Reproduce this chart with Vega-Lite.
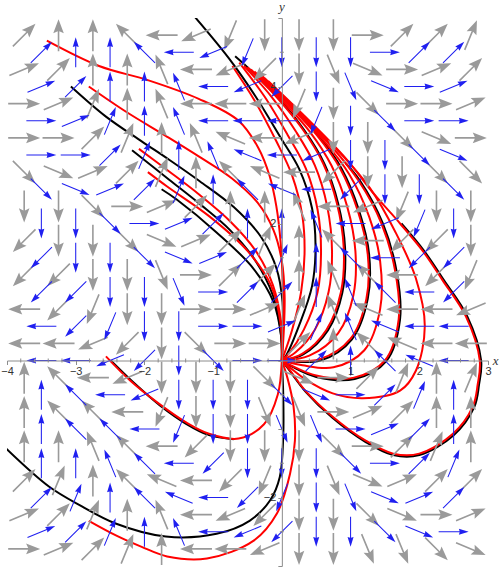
{
"$schema":"https://vega.github.io/schema/vega-lite/v6.json",
"width":481,"height":548,
"autosize":{"type":"none"},
"padding":{"left":7,"top":18,"right":16,"bottom":5},
"background":"white",
"config":{"view":{"stroke":null},"axis":{"grid":false,"labelOverlap":false}},
"datasets":{
"gray":[
{"x":-3.75,"y":4.75,"a":45},{"x":-3.25,"y":4.75,"a":0},{"x":-2.75,"y":4.75,"a":0},{"x":-2.25,"y":4.75,"a":-45},{"x":-1.75,"y":4.75,"a":-90},{"x":-1.25,"y":4.75,"a":-112.5},{"x":-0.75,"y":4.75,"a":-157.5},{"x":-0.25,"y":4.75,"a":180},{"x":0.25,"y":4.75,"a":180},{"x":0.75,"y":4.75,"a":180},{"x":1.25,"y":4.75,"a":90},{"x":1.75,"y":4.75,"a":45},{"x":2.25,"y":4.75,"a":45},{"x":2.75,"y":4.75,"a":22.5},
{"x":-3.75,"y":4.25,"a":67.5},{"x":-3.25,"y":4.25,"a":45},{"x":-2.75,"y":4.25,"a":0},{"x":-2.25,"y":4.25,"a":0},{"x":-1.75,"y":4.25,"a":-22.5},{"x":-1.25,"y":4.25,"a":-90},{"x":-0.75,"y":4.25,"a":-112.5},{"x":-0.25,"y":4.25,"a":-135},{"x":0.25,"y":4.25,"a":180},{"x":0.75,"y":4.25,"a":157.5},{"x":1.25,"y":4.25,"a":112.5},{"x":1.75,"y":4.25,"a":90},{"x":2.25,"y":4.25,"a":67.5},{"x":2.75,"y":4.25,"a":45},
{"x":-3.75,"y":3.75,"a":90},{"x":-3.25,"y":3.75,"a":67.5},{"x":-2.75,"y":3.75,"a":22.5},{"x":-2.25,"y":3.75,"a":0},{"x":-1.75,"y":3.75,"a":-22.5},{"x":-1.25,"y":3.75,"a":-90},{"x":-0.75,"y":3.75,"a":-90},{"x":-0.25,"y":3.75,"a":-90},{"x":0.25,"y":3.75,"a":-157.5},{"x":0.75,"y":3.75,"a":180},{"x":1.25,"y":3.75,"a":135},{"x":1.75,"y":3.75,"a":90},{"x":2.25,"y":3.75,"a":90},{"x":2.75,"y":3.75,"a":67.5},
{"x":-3.75,"y":3.25,"a":90},{"x":-3.25,"y":3.25,"a":90},{"x":-2.75,"y":3.25,"a":45},{"x":-2.25,"y":3.25,"a":22.5},{"x":-1.75,"y":3.25,"a":0},{"x":-1.25,"y":3.25,"a":-22.5},{"x":-0.75,"y":3.25,"a":-67.5},{"x":-0.25,"y":3.25,"a":-90},{"x":0.25,"y":3.25,"a":-112.5},{"x":0.75,"y":3.25,"a":180},{"x":1.25,"y":3.25,"a":180},{"x":1.75,"y":3.25,"a":135},{"x":2.25,"y":3.25,"a":112.5},{"x":2.75,"y":3.25,"a":90},
{"x":-3.75,"y":2.75,"a":135},{"x":-3.25,"y":2.75,"a":112.5},{"x":-2.75,"y":2.75,"a":67.5},{"x":-2.25,"y":2.75,"a":45},{"x":-1.75,"y":2.75,"a":22.5},{"x":-1.25,"y":2.75,"a":0},{"x":-0.75,"y":2.75,"a":-45},{"x":-0.25,"y":2.75,"a":-67.5},{"x":0.25,"y":2.75,"a":-90},{"x":0.75,"y":2.75,"a":-135},{"x":1.25,"y":2.75,"a":180},{"x":1.75,"y":2.75,"a":180},{"x":2.25,"y":2.75,"a":135},{"x":2.75,"y":2.75,"a":135},
{"x":-3.75,"y":2.25,"a":180},{"x":-3.25,"y":2.25,"a":180},{"x":-2.75,"y":2.25,"a":135},{"x":-2.25,"y":2.25,"a":90},{"x":-1.75,"y":2.25,"a":67.5},{"x":-1.25,"y":2.25,"a":45},{"x":-0.75,"y":2.25,"a":0},{"x":-0.25,"y":2.25,"a":0},{"x":0.25,"y":2.25,"a":-22.5},{"x":0.75,"y":2.25,"a":-90},{"x":1.25,"y":2.25,"a":-112.5},{"x":1.75,"y":2.25,"a":-157.5},{"x":2.25,"y":2.25,"a":180},{"x":2.75,"y":2.25,"a":180},
{"x":-3.75,"y":1.75,"a":-135},{"x":-3.25,"y":1.75,"a":180},{"x":-2.75,"y":1.75,"a":180},{"x":-2.25,"y":1.75,"a":135},{"x":-1.75,"y":1.75,"a":112.5},{"x":-1.25,"y":1.75,"a":67.5},{"x":-0.75,"y":1.75,"a":45},{"x":-0.25,"y":1.75,"a":22.5},{"x":0.25,"y":1.75,"a":0},{"x":0.75,"y":1.75,"a":-45},{"x":1.25,"y":1.75,"a":-90},{"x":1.75,"y":1.75,"a":-135},{"x":2.25,"y":1.75,"a":-135},{"x":2.75,"y":1.75,"a":180},
{"x":-3.75,"y":1.25,"a":-135},{"x":-3.25,"y":1.25,"a":-135},{"x":-2.75,"y":1.25,"a":180},{"x":-2.25,"y":1.25,"a":180},{"x":-1.75,"y":1.25,"a":157.5},{"x":-1.25,"y":1.25,"a":90},{"x":-0.75,"y":1.25,"a":45},{"x":-0.25,"y":1.25,"a":45},{"x":0.25,"y":1.25,"a":0},{"x":0.75,"y":1.25,"a":-22.5},{"x":1.25,"y":1.25,"a":-45},{"x":1.75,"y":1.25,"a":-90},{"x":2.25,"y":1.25,"a":-135},{"x":2.75,"y":1.25,"a":-157.5},
{"x":-3.75,"y":0.75,"a":-90},{"x":-3.25,"y":0.75,"a":-135},{"x":-2.75,"y":0.75,"a":-157.5},{"x":-2.25,"y":0.75,"a":180},{"x":-1.75,"y":0.75,"a":180},{"x":-1.25,"y":0.75,"a":90},{"x":-0.75,"y":0.75,"a":90},{"x":-0.25,"y":0.75,"a":67.5},{"x":0.25,"y":0.75,"a":22.5},{"x":0.75,"y":0.75,"a":-22.5},{"x":1.25,"y":0.75,"a":-67.5},{"x":1.75,"y":0.75,"a":-90},{"x":2.25,"y":0.75,"a":-90},{"x":2.75,"y":0.75,"a":-112.5},
{"x":-3.75,"y":0.25,"a":-90},{"x":-3.25,"y":0.25,"a":-90},{"x":-2.75,"y":0.25,"a":-112.5},{"x":-2.25,"y":0.25,"a":-135},{"x":-1.75,"y":0.25,"a":180},{"x":-1.25,"y":0.25,"a":135},{"x":-0.75,"y":0.25,"a":90},{"x":-0.25,"y":0.25,"a":90},{"x":0.25,"y":0.25,"a":45},{"x":0.75,"y":0.25,"a":0},{"x":1.25,"y":0.25,"a":-45},{"x":1.75,"y":0.25,"a":-67.5},{"x":2.25,"y":0.25,"a":-90},{"x":2.75,"y":0.25,"a":-90},
{"x":-3.75,"y":-0.25,"a":0},{"x":-3.25,"y":-0.25,"a":-45},{"x":-2.75,"y":-0.25,"a":-90},{"x":-2.25,"y":-0.25,"a":-112.5},{"x":-1.75,"y":-0.25,"a":180},{"x":-1.25,"y":-0.25,"a":180},{"x":-0.75,"y":-0.25,"a":180},{"x":-0.25,"y":-0.25,"a":135},{"x":0.25,"y":-0.25,"a":112.5},{"x":0.75,"y":-0.25,"a":90},{"x":1.25,"y":-0.25,"a":45},{"x":1.75,"y":-0.25,"a":22.5},{"x":2.25,"y":-0.25,"a":0},{"x":2.75,"y":-0.25,"a":22.5},
{"x":-3.75,"y":-0.75,"a":0},{"x":-3.25,"y":-0.75,"a":-45},{"x":-2.75,"y":-0.75,"a":-45},{"x":-2.25,"y":-0.75,"a":-90},{"x":-1.75,"y":-0.75,"a":-157.5},{"x":-1.25,"y":-0.75,"a":180},{"x":-0.75,"y":-0.75,"a":180},{"x":-0.25,"y":-0.75,"a":157.5},{"x":0.25,"y":-0.75,"a":157.5},{"x":0.75,"y":-0.75,"a":90},{"x":1.25,"y":-0.75,"a":67.5},{"x":1.75,"y":-0.75,"a":45},{"x":2.25,"y":-0.75,"a":0},{"x":2.75,"y":-0.75,"a":0},
{"x":-3.75,"y":-1.25,"a":0},{"x":-3.25,"y":-1.25,"a":0},{"x":-2.75,"y":-1.25,"a":-22.5},{"x":-2.25,"y":-1.25,"a":-45},{"x":-1.75,"y":-1.25,"a":-90},{"x":-1.25,"y":-1.25,"a":-135},{"x":-0.75,"y":-1.25,"a":180},{"x":-0.25,"y":-1.25,"a":180},{"x":0.25,"y":-1.25,"a":180},{"x":0.75,"y":-1.25,"a":135},{"x":1.25,"y":-1.25,"a":90},{"x":1.75,"y":-1.25,"a":45},{"x":2.25,"y":-1.25,"a":22.5},{"x":2.75,"y":-1.25,"a":0},
{"x":-3.75,"y":-1.75,"a":45},{"x":-3.25,"y":-1.75,"a":22.5},{"x":-2.75,"y":-1.75,"a":0},{"x":-2.25,"y":-1.75,"a":-45},{"x":-1.75,"y":-1.75,"a":-67.5},{"x":-1.25,"y":-1.75,"a":-90},{"x":-0.75,"y":-1.75,"a":-135},{"x":-0.25,"y":-1.75,"a":-157.5},{"x":0.25,"y":-1.75,"a":180},{"x":0.75,"y":-1.75,"a":157.5},{"x":1.25,"y":-1.75,"a":112.5},{"x":1.75,"y":-1.75,"a":67.5},{"x":2.25,"y":-1.75,"a":45},{"x":2.75,"y":-1.75,"a":45},
{"x":-3.75,"y":-2.25,"a":67.5},{"x":-3.25,"y":-2.25,"a":45},{"x":-2.75,"y":-2.25,"a":22.5},{"x":-2.25,"y":-2.25,"a":0},{"x":-1.75,"y":-2.25,"a":-22.5},{"x":-1.25,"y":-2.25,"a":-90},{"x":-0.75,"y":-2.25,"a":-112.5},{"x":-0.25,"y":-2.25,"a":-135},{"x":0.25,"y":-2.25,"a":180},{"x":0.75,"y":-2.25,"a":180},{"x":1.25,"y":-2.25,"a":135},{"x":1.75,"y":-2.25,"a":112.5},{"x":2.25,"y":-2.25,"a":90},{"x":2.75,"y":-2.25,"a":67.5},
{"x":-3.75,"y":-2.75,"a":90},{"x":-3.25,"y":-2.75,"a":67.5},{"x":-2.75,"y":-2.75,"a":45},{"x":-2.25,"y":-2.75,"a":22.5},{"x":-1.75,"y":-2.75,"a":0},{"x":-1.25,"y":-2.75,"a":-90},{"x":-0.75,"y":-2.75,"a":-90},{"x":-0.25,"y":-2.75,"a":-112.5},{"x":0.25,"y":-2.75,"a":180},{"x":0.75,"y":-2.75,"a":180},{"x":1.25,"y":-2.75,"a":157.5},{"x":1.75,"y":-2.75,"a":157.5},{"x":2.25,"y":-2.75,"a":135},{"x":2.75,"y":-2.75,"a":112.5}
],
"blue":[
{"x":-3.5,"y":4.5,"a":45},{"x":-3,"y":4.5,"a":0},{"x":-2.5,"y":4.5,"a":0},{"x":-2,"y":4.5,"a":-45},{"x":-1.5,"y":4.5,"a":-90},{"x":-1,"y":4.5,"a":-112.5},{"x":-0.5,"y":4.5,"a":-157.5},{"x":0,"y":4.5,"a":180},{"x":0.5,"y":4.5,"a":180},{"x":1,"y":4.5,"a":180},{"x":1.5,"y":4.5,"a":90},{"x":2,"y":4.5,"a":45},{"x":2.5,"y":4.5,"a":45},
{"x":-3.5,"y":4,"a":67.5},{"x":-3,"y":4,"a":45},{"x":-2.5,"y":4,"a":0},{"x":-2,"y":4,"a":0},{"x":-1.5,"y":4,"a":-22.5},{"x":-1,"y":4,"a":-90},{"x":-0.5,"y":4,"a":-112.5},{"x":0,"y":4,"a":-135},{"x":0.5,"y":4,"a":180},{"x":1,"y":4,"a":157.5},{"x":1.5,"y":4,"a":112.5},{"x":2,"y":4,"a":90},{"x":2.5,"y":4,"a":67.5},
{"x":-3.5,"y":3.5,"a":90},{"x":-3,"y":3.5,"a":67.5},{"x":-2.5,"y":3.5,"a":22.5},{"x":-2,"y":3.5,"a":0},{"x":-1.5,"y":3.5,"a":-22.5},{"x":-1,"y":3.5,"a":-90},{"x":-0.5,"y":3.5,"a":-90},{"x":0,"y":3.5,"a":-90},{"x":0.5,"y":3.5,"a":-157.5},{"x":1,"y":3.5,"a":180},{"x":1.5,"y":3.5,"a":135},{"x":2,"y":3.5,"a":90},{"x":2.5,"y":3.5,"a":90},
{"x":-3.5,"y":3,"a":90},{"x":-3,"y":3,"a":90},{"x":-2.5,"y":3,"a":45},{"x":-2,"y":3,"a":22.5},{"x":-1.5,"y":3,"a":0},{"x":-1,"y":3,"a":-22.5},{"x":-0.5,"y":3,"a":-67.5},{"x":0,"y":3,"a":-90},{"x":0.5,"y":3,"a":-112.5},{"x":1,"y":3,"a":180},{"x":1.5,"y":3,"a":180},{"x":2,"y":3,"a":135},{"x":2.5,"y":3,"a":112.5},
{"x":-3.5,"y":2.5,"a":135},{"x":-3,"y":2.5,"a":112.5},{"x":-2.5,"y":2.5,"a":67.5},{"x":-2,"y":2.5,"a":45},{"x":-1.5,"y":2.5,"a":22.5},{"x":-1,"y":2.5,"a":0},{"x":-0.5,"y":2.5,"a":-45},{"x":0,"y":2.5,"a":-67.5},{"x":0.5,"y":2.5,"a":-90},{"x":1,"y":2.5,"a":-135},{"x":1.5,"y":2.5,"a":180},{"x":2,"y":2.5,"a":180},{"x":2.5,"y":2.5,"a":135},
{"x":-3.5,"y":2,"a":180},{"x":-3,"y":2,"a":180},{"x":-2.5,"y":2,"a":135},{"x":-2,"y":2,"a":90},{"x":-1.5,"y":2,"a":67.5},{"x":-1,"y":2,"a":45},{"x":-0.5,"y":2,"a":0},{"x":0,"y":2,"a":0},{"x":0.5,"y":2,"a":-22.5},{"x":1,"y":2,"a":-90},{"x":1.5,"y":2,"a":-112.5},{"x":2,"y":2,"a":-157.5},{"x":2.5,"y":2,"a":180},
{"x":-3.5,"y":1.5,"a":-135},{"x":-3,"y":1.5,"a":180},{"x":-2.5,"y":1.5,"a":180},{"x":-2,"y":1.5,"a":135},{"x":-1.5,"y":1.5,"a":112.5},{"x":-1,"y":1.5,"a":67.5},{"x":-0.5,"y":1.5,"a":45},{"x":0,"y":1.5,"a":22.5},{"x":0.5,"y":1.5,"a":0},{"x":1,"y":1.5,"a":-45},{"x":1.5,"y":1.5,"a":-90},{"x":2,"y":1.5,"a":-135},{"x":2.5,"y":1.5,"a":-135},
{"x":-3.5,"y":1,"a":-135},{"x":-3,"y":1,"a":-135},{"x":-2.5,"y":1,"a":180},{"x":-2,"y":1,"a":180},{"x":-1.5,"y":1,"a":157.5},{"x":-1,"y":1,"a":90},{"x":-0.5,"y":1,"a":45},{"x":0,"y":1,"a":45},{"x":0.5,"y":1,"a":0},{"x":1,"y":1,"a":-22.5},{"x":1.5,"y":1,"a":-45},{"x":2,"y":1,"a":-90},{"x":2.5,"y":1,"a":-135},
{"x":-3.5,"y":0.5,"a":-90},{"x":-3,"y":0.5,"a":-135},{"x":-2.5,"y":0.5,"a":-157.5},{"x":-2,"y":0.5,"a":180},{"x":-1.5,"y":0.5,"a":180},{"x":-1,"y":0.5,"a":90},{"x":-0.5,"y":0.5,"a":90},{"x":0,"y":0.5,"a":67.5},{"x":0.5,"y":0.5,"a":22.5},{"x":1,"y":0.5,"a":-22.5},{"x":1.5,"y":0.5,"a":-67.5},{"x":2,"y":0.5,"a":-90},{"x":2.5,"y":0.5,"a":-90},
{"x":-3.5,"y":0,"a":-90},{"x":-3,"y":0,"a":-90},{"x":-2.5,"y":0,"a":-112.5},{"x":-2,"y":0,"a":-135},{"x":-1.5,"y":0,"a":180},{"x":-1,"y":0,"a":135},{"x":-0.5,"y":0,"a":90},{"x":0,"y":0,"a":90},{"x":0.5,"y":0,"a":45},{"x":1,"y":0,"a":0},{"x":1.5,"y":0,"a":-45},{"x":2,"y":0,"a":-67.5},{"x":2.5,"y":0,"a":-90},
{"x":-3.5,"y":-0.5,"a":0},{"x":-3,"y":-0.5,"a":-45},{"x":-2.5,"y":-0.5,"a":-90},{"x":-2,"y":-0.5,"a":-112.5},{"x":-1.5,"y":-0.5,"a":180},{"x":-1,"y":-0.5,"a":180},{"x":-0.5,"y":-0.5,"a":180},{"x":0,"y":-0.5,"a":135},{"x":0.5,"y":-0.5,"a":112.5},{"x":1,"y":-0.5,"a":90},{"x":1.5,"y":-0.5,"a":45},{"x":2,"y":-0.5,"a":22.5},{"x":2.5,"y":-0.5,"a":0},
{"x":-3.5,"y":-1,"a":0},{"x":-3,"y":-1,"a":-45},{"x":-2.5,"y":-1,"a":-45},{"x":-2,"y":-1,"a":-90},{"x":-1.5,"y":-1,"a":-157.5},{"x":-1,"y":-1,"a":180},{"x":-0.5,"y":-1,"a":180},{"x":0,"y":-1,"a":157.5},{"x":0.5,"y":-1,"a":157.5},{"x":1,"y":-1,"a":90},{"x":1.5,"y":-1,"a":67.5},{"x":2,"y":-1,"a":45},{"x":2.5,"y":-1,"a":0},
{"x":-3.5,"y":-1.5,"a":0},{"x":-3,"y":-1.5,"a":0},{"x":-2.5,"y":-1.5,"a":-22.5},{"x":-2,"y":-1.5,"a":-45},{"x":-1.5,"y":-1.5,"a":-90},{"x":-1,"y":-1.5,"a":-135},{"x":-0.5,"y":-1.5,"a":180},{"x":0,"y":-1.5,"a":180},{"x":0.5,"y":-1.5,"a":180},{"x":1,"y":-1.5,"a":135},{"x":1.5,"y":-1.5,"a":90},{"x":2,"y":-1.5,"a":45},{"x":2.5,"y":-1.5,"a":22.5},
{"x":-3.5,"y":-2,"a":45},{"x":-3,"y":-2,"a":22.5},{"x":-2.5,"y":-2,"a":0},{"x":-2,"y":-2,"a":-45},{"x":-1.5,"y":-2,"a":-67.5},{"x":-1,"y":-2,"a":-90},{"x":-0.5,"y":-2,"a":-135},{"x":0,"y":-2,"a":-157.5},{"x":0.5,"y":-2,"a":180},{"x":1,"y":-2,"a":157.5},{"x":1.5,"y":-2,"a":112.5},{"x":2,"y":-2,"a":67.5},{"x":2.5,"y":-2,"a":45},
{"x":-3.5,"y":-2.5,"a":67.5},{"x":-3,"y":-2.5,"a":45},{"x":-2.5,"y":-2.5,"a":22.5},{"x":-2,"y":-2.5,"a":0},{"x":-1.5,"y":-2.5,"a":-22.5},{"x":-1,"y":-2.5,"a":-90},{"x":-0.5,"y":-2.5,"a":-112.5},{"x":0,"y":-2.5,"a":-135},{"x":0.5,"y":-2.5,"a":180},{"x":1,"y":-2.5,"a":180},{"x":1.5,"y":-2.5,"a":135},{"x":2,"y":-2.5,"a":112.5},{"x":2.5,"y":-2.5,"a":90}
],
"curves":[
{"c":"R1","col":"r","i":0,"x":-3.42,"y":4.67},{"c":"R1","col":"r","i":1,"x":-2.66,"y":4.3},{"c":"R1","col":"r","i":2,"x":-1.94,"y":4.09},{"c":"R1","col":"r","i":3,"x":-1.21,"y":3.82},{"c":"R1","col":"r","i":4,"x":-0.63,"y":3.5},{"c":"R1","col":"r","i":5,"x":-0.34,"y":3.1},{"c":"R1","col":"r","i":6,"x":-0.18,"y":2.7},{"c":"R1","col":"r","i":7,"x":-0.08,"y":2.25},{"c":"R1","col":"r","i":8,"x":-0.02,"y":1.75},{"c":"R1","col":"r","i":9,"x":0.01,"y":1.2},{"c":"R1","col":"r","i":10,"x":0.02,"y":0.6},{"c":"R1","col":"r","i":11,"x":0,"y":0},
{"c":"R2","col":"r","i":0,"x":-2.81,"y":4.0},{"c":"R2","col":"r","i":1,"x":-2.25,"y":3.62},{"c":"R2","col":"r","i":2,"x":-1.69,"y":3.28},{"c":"R2","col":"r","i":3,"x":-1.21,"y":2.98},{"c":"R2","col":"r","i":4,"x":-0.73,"y":2.66},{"c":"R2","col":"r","i":5,"x":-0.35,"y":2.3},{"c":"R2","col":"r","i":6,"x":-0.12,"y":1.9},{"c":"R2","col":"r","i":7,"x":0.0,"y":1.45},{"c":"R2","col":"r","i":8,"x":0.04,"y":0.95},{"c":"R2","col":"r","i":9,"x":0.03,"y":0.47},{"c":"R2","col":"r","i":10,"x":0,"y":0},
{"c":"B1","col":"k","i":0,"x":-3.07,"y":4.0},{"c":"B1","col":"k","i":1,"x":-2.56,"y":3.56},{"c":"B1","col":"k","i":2,"x":-2.04,"y":3.2},{"c":"B1","col":"k","i":3,"x":-1.64,"y":2.93},{"c":"B1","col":"k","i":4,"x":-1.2,"y":2.62},{"c":"B1","col":"k","i":5,"x":-0.7,"y":2.24},{"c":"B1","col":"k","i":6,"x":-0.3,"y":1.8},{"c":"B1","col":"k","i":7,"x":-0.08,"y":1.35},{"c":"B1","col":"k","i":8,"x":0.01,"y":0.85},{"c":"B1","col":"k","i":9,"x":0.01,"y":0.4},{"c":"B1","col":"k","i":10,"x":0,"y":0},
{"c":"R3","col":"r","i":0,"x":-2.08,"y":3.09},{"c":"R3","col":"r","i":1,"x":-1.64,"y":2.76},{"c":"R3","col":"r","i":2,"x":-1.2,"y":2.42},{"c":"R3","col":"r","i":3,"x":-0.75,"y":2.03},{"c":"R3","col":"r","i":4,"x":-0.38,"y":1.6},{"c":"R3","col":"r","i":5,"x":-0.13,"y":1.1},{"c":"R3","col":"r","i":6,"x":-0.01,"y":0.55},{"c":"R3","col":"r","i":7,"x":0,"y":0},
{"c":"B2","col":"k","i":0,"x":-2.18,"y":3.07},{"c":"B2","col":"k","i":1,"x":-1.64,"y":2.64},{"c":"B2","col":"k","i":2,"x":-1.2,"y":2.29},{"c":"B2","col":"k","i":3,"x":-0.75,"y":1.9},{"c":"B2","col":"k","i":4,"x":-0.38,"y":1.45},{"c":"B2","col":"k","i":5,"x":-0.13,"y":0.95},{"c":"B2","col":"k","i":6,"x":-0.02,"y":0.45},{"c":"B2","col":"k","i":7,"x":0,"y":0},
{"c":"R4","col":"r","i":0,"x":-1.95,"y":2.75},{"c":"R4","col":"r","i":1,"x":-1.67,"y":2.54},{"c":"R4","col":"r","i":2,"x":-1.05,"y":2.1},{"c":"R4","col":"r","i":3,"x":-0.5,"y":1.6},{"c":"R4","col":"r","i":4,"x":-0.16,"y":1.1},{"c":"R4","col":"r","i":5,"x":-0.02,"y":0.55},{"c":"R4","col":"r","i":6,"x":0,"y":0},
{"c":"B3","col":"k","i":0,"x":-1.75,"y":2.5},{"c":"B3","col":"k","i":1,"x":-1.53,"y":2.35},{"c":"B3","col":"k","i":2,"x":-0.95,"y":1.87},{"c":"B3","col":"k","i":3,"x":-0.42,"y":1.35},{"c":"B3","col":"k","i":4,"x":-0.12,"y":0.85},{"c":"B3","col":"k","i":5,"x":-0.01,"y":0.35},{"c":"B3","col":"k","i":6,"x":0,"y":0},
{"c":"BT","col":"k","i":0,"x":-1.27,"y":5.02},{"c":"BT","col":"k","i":1,"x":-0.77,"y":4.41},{"c":"BT","col":"k","i":2,"x":-0.38,"y":3.85},{"c":"BT","col":"k","i":3,"x":-0.01,"y":3.24},{"c":"BT","col":"k","i":4,"x":0.25,"y":2.8},{"c":"BT","col":"k","i":5,"x":0.44,"y":2.22},{"c":"BT","col":"k","i":6,"x":0.49,"y":1.68},{"c":"BT","col":"k","i":7,"x":0.44,"y":1.09},{"c":"BT","col":"k","i":8,"x":0.25,"y":0.51},{"c":"BT","col":"k","i":9,"x":0.06,"y":0.07},{"c":"BT","col":"k","i":10,"x":0,"y":0},
{"c":"K1","col":"r","i":0,"x":-0.72,"y":4.3},{"c":"K1","col":"r","i":1,"x":-0.4,"y":3.8},{"c":"K1","col":"r","i":2,"x":-0.08,"y":3.2},{"c":"K1","col":"r","i":3,"x":0.15,"y":2.7},{"c":"K1","col":"r","i":4,"x":0.3,"y":2.1},{"c":"K1","col":"r","i":5,"x":0.33,"y":1.55},{"c":"K1","col":"r","i":6,"x":0.28,"y":1.0},{"c":"K1","col":"r","i":7,"x":0.15,"y":0.45},{"c":"K1","col":"r","i":8,"x":0,"y":0},
{"c":"K2","col":"r","i":0,"x":-0.62,"y":4.35},{"c":"K2","col":"r","i":1,"x":-0.25,"y":3.85},{"c":"K2","col":"r","i":2,"x":0.08,"y":3.3},{"c":"K2","col":"r","i":3,"x":0.35,"y":2.8},{"c":"K2","col":"r","i":4,"x":0.52,"y":2.2},{"c":"K2","col":"r","i":5,"x":0.57,"y":1.6},{"c":"K2","col":"r","i":6,"x":0.52,"y":1.0},{"c":"K2","col":"r","i":7,"x":0.32,"y":0.45},{"c":"K2","col":"r","i":8,"x":0.1,"y":0.1},{"c":"K2","col":"r","i":9,"x":0,"y":0},
{"c":"K3","col":"r","i":0,"x":-0.55,"y":4.3},{"c":"K3","col":"r","i":1,"x":-0.15,"y":3.85},{"c":"K3","col":"r","i":2,"x":0.2,"y":3.35},{"c":"K3","col":"r","i":3,"x":0.48,"y":2.85},{"c":"K3","col":"r","i":4,"x":0.66,"y":2.25},{"c":"K3","col":"r","i":5,"x":0.73,"y":1.6},{"c":"K3","col":"r","i":6,"x":0.68,"y":1.0},{"c":"K3","col":"r","i":7,"x":0.48,"y":0.45},{"c":"K3","col":"r","i":8,"x":0.2,"y":0.12},{"c":"K3","col":"r","i":9,"x":0,"y":0},
{"c":"K4","col":"r","i":0,"x":-0.5,"y":4.28},{"c":"K4","col":"r","i":1,"x":-0.08,"y":3.85},{"c":"K4","col":"r","i":2,"x":0.3,"y":3.38},{"c":"K4","col":"r","i":3,"x":0.6,"y":2.88},{"c":"K4","col":"r","i":4,"x":0.8,"y":2.3},{"c":"K4","col":"r","i":5,"x":0.9,"y":1.65},{"c":"K4","col":"r","i":6,"x":0.86,"y":1.0},{"c":"K4","col":"r","i":7,"x":0.65,"y":0.45},{"c":"K4","col":"r","i":8,"x":0.3,"y":0.1},{"c":"K4","col":"r","i":9,"x":0,"y":0},
{"c":"K5","col":"r","i":0,"x":-0.45,"y":4.25},{"c":"K5","col":"r","i":1,"x":0.0,"y":3.8},{"c":"K5","col":"r","i":2,"x":0.4,"y":3.35},{"c":"K5","col":"r","i":3,"x":0.72,"y":2.85},{"c":"K5","col":"r","i":4,"x":0.95,"y":2.25},{"c":"K5","col":"r","i":5,"x":1.07,"y":1.6},{"c":"K5","col":"r","i":6,"x":1.04,"y":0.95},{"c":"K5","col":"r","i":7,"x":0.82,"y":0.4},{"c":"K5","col":"r","i":8,"x":0.4,"y":0.07},{"c":"K5","col":"r","i":9,"x":0,"y":0},
{"c":"K6","col":"r","i":0,"x":-0.4,"y":4.22},{"c":"K6","col":"r","i":1,"x":0.08,"y":3.75},{"c":"K6","col":"r","i":2,"x":0.5,"y":3.3},{"c":"K6","col":"r","i":3,"x":0.85,"y":2.8},{"c":"K6","col":"r","i":4,"x":1.1,"y":2.2},{"c":"K6","col":"r","i":5,"x":1.25,"y":1.55},{"c":"K6","col":"r","i":6,"x":1.23,"y":0.9},{"c":"K6","col":"r","i":7,"x":1.0,"y":0.32},{"c":"K6","col":"r","i":8,"x":0.55,"y":0.02},{"c":"K6","col":"r","i":9,"x":0,"y":0},
{"c":"K7","col":"r","i":0,"x":-0.35,"y":4.2},{"c":"K7","col":"r","i":1,"x":0.15,"y":3.7},{"c":"K7","col":"r","i":2,"x":0.6,"y":3.22},{"c":"K7","col":"r","i":3,"x":0.98,"y":2.72},{"c":"K7","col":"r","i":4,"x":1.27,"y":2.1},{"c":"K7","col":"r","i":5,"x":1.43,"y":1.45},{"c":"K7","col":"r","i":6,"x":1.43,"y":0.75},{"c":"K7","col":"r","i":7,"x":1.2,"y":0.15},{"c":"K7","col":"r","i":8,"x":0.75,"y":-0.1},{"c":"K7","col":"r","i":9,"x":0.3,"y":-0.07},{"c":"K7","col":"r","i":10,"x":0,"y":0},
{"c":"K8","col":"r","i":0,"x":-0.3,"y":4.17},{"c":"K8","col":"r","i":1,"x":0.2,"y":3.65},{"c":"K8","col":"r","i":2,"x":0.7,"y":3.15},{"c":"K8","col":"r","i":3,"x":1.12,"y":2.62},{"c":"K8","col":"r","i":4,"x":1.45,"y":2.0},{"c":"K8","col":"r","i":5,"x":1.65,"y":1.3},{"c":"K8","col":"r","i":6,"x":1.7,"y":0.6},{"c":"K8","col":"r","i":7,"x":1.5,"y":0.0},{"c":"K8","col":"r","i":8,"x":1.05,"y":-0.25},{"c":"K8","col":"r","i":9,"x":0.5,"y":-0.22},{"c":"K8","col":"r","i":10,"x":0.15,"y":-0.08},{"c":"K8","col":"r","i":11,"x":0,"y":0},
{"c":"K9","col":"r","i":0,"x":-0.25,"y":4.12},{"c":"K9","col":"r","i":1,"x":0.3,"y":3.58},{"c":"K9","col":"r","i":2,"x":0.8,"y":3.08},{"c":"K9","col":"r","i":3,"x":1.28,"y":2.52},{"c":"K9","col":"r","i":4,"x":1.65,"y":1.88},{"c":"K9","col":"r","i":5,"x":1.95,"y":1.2},{"c":"K9","col":"r","i":6,"x":2.08,"y":0.5},{"c":"K9","col":"r","i":7,"x":1.95,"y":-0.15},{"c":"K9","col":"r","i":8,"x":1.72,"y":-0.44},{"c":"K9","col":"r","i":9,"x":1.18,"y":-0.55},{"c":"K9","col":"r","i":10,"x":0.74,"y":-0.48},{"c":"K9","col":"r","i":11,"x":0.35,"y":-0.28},{"c":"K9","col":"r","i":12,"x":0,"y":0},
{"c":"K10","col":"r","i":0,"x":-0.2,"y":4.08},{"c":"K10","col":"r","i":1,"x":0.4,"y":3.5},{"c":"K10","col":"r","i":2,"x":0.93,"y":2.95},{"c":"K10","col":"r","i":3,"x":1.35,"y":2.42},{"c":"K10","col":"r","i":4,"x":1.72,"y":2.0},{"c":"K10","col":"r","i":5,"x":2.05,"y":1.6},{"c":"K10","col":"r","i":6,"x":2.34,"y":1.17},{"c":"K10","col":"r","i":7,"x":2.68,"y":0.64},{"c":"K10","col":"r","i":8,"x":2.88,"y":0.0},{"c":"K10","col":"r","i":9,"x":2.85,"y":-0.35},{"c":"K10","col":"r","i":10,"x":2.78,"y":-0.67},{"c":"K10","col":"r","i":11,"x":2.49,"y":-1.07},{"c":"K10","col":"r","i":12,"x":2.0,"y":-1.36},{"c":"K10","col":"r","i":13,"x":1.62,"y":-1.36},{"c":"K10","col":"r","i":14,"x":1.22,"y":-1.17},{"c":"K10","col":"r","i":15,"x":0.74,"y":-0.82},{"c":"K10","col":"r","i":16,"x":0.35,"y":-0.45},{"c":"K10","col":"r","i":17,"x":0.1,"y":-0.12},{"c":"K10","col":"r","i":18,"x":0,"y":0},
{"c":"B4","col":"k","i":0,"x":-0.68,"y":4.44},{"c":"B4","col":"k","i":1,"x":-0.48,"y":4.26},{"c":"B4","col":"k","i":2,"x":-0.06,"y":3.84},{"c":"B4","col":"k","i":3,"x":0.32,"y":3.37},{"c":"B4","col":"k","i":4,"x":0.62,"y":2.87},{"c":"B4","col":"k","i":5,"x":0.82,"y":2.29},{"c":"B4","col":"k","i":6,"x":0.92,"y":1.64},{"c":"B4","col":"k","i":7,"x":0.88,"y":0.99},{"c":"B4","col":"k","i":8,"x":0.67,"y":0.44},{"c":"B4","col":"k","i":9,"x":0.31,"y":0.09},{"c":"B4","col":"k","i":10,"x":0,"y":0},
{"c":"B6","col":"k","i":0,"x":0.1,"y":3.75},{"c":"B6","col":"k","i":1,"x":0.52,"y":3.3},{"c":"B6","col":"k","i":2,"x":0.87,"y":2.8},{"c":"B6","col":"k","i":3,"x":1.12,"y":2.2},{"c":"B6","col":"k","i":4,"x":1.27,"y":1.55},{"c":"B6","col":"k","i":5,"x":1.25,"y":0.9},{"c":"B6","col":"k","i":6,"x":1.02,"y":0.31},{"c":"B6","col":"k","i":7,"x":0.56,"y":0.0},{"c":"B6","col":"k","i":8,"x":0,"y":0},
{"c":"B8","col":"k","i":0,"x":0.93,"y":2.88},{"c":"B8","col":"k","i":1,"x":1.14,"y":2.62},{"c":"B8","col":"k","i":2,"x":1.47,"y":2.0},{"c":"B8","col":"k","i":3,"x":1.67,"y":1.3},{"c":"B8","col":"k","i":4,"x":1.72,"y":0.6},{"c":"B8","col":"k","i":5,"x":1.52,"y":-0.01},{"c":"B8","col":"k","i":6,"x":1.06,"y":-0.27},{"c":"B8","col":"k","i":7,"x":0.5,"y":-0.24},{"c":"B8","col":"k","i":8,"x":0.15,"y":-0.09},{"c":"B8","col":"k","i":9,"x":0,"y":0},
{"c":"B10","col":"k","i":0,"x":1.74,"y":2.0},{"c":"B10","col":"k","i":1,"x":2.07,"y":1.6},{"c":"B10","col":"k","i":2,"x":2.36,"y":1.17},{"c":"B10","col":"k","i":3,"x":2.7,"y":0.64},{"c":"B10","col":"k","i":4,"x":2.9,"y":0.0},{"c":"B10","col":"k","i":5,"x":2.87,"y":-0.35},{"c":"B10","col":"k","i":6,"x":2.8,"y":-0.68},{"c":"B10","col":"k","i":7,"x":2.5,"y":-1.09},{"c":"B10","col":"k","i":8,"x":2.0,"y":-1.38},{"c":"B10","col":"k","i":9,"x":1.62,"y":-1.38},{"c":"B10","col":"k","i":10,"x":1.22,"y":-1.19},{"c":"B10","col":"k","i":11,"x":0.74,"y":-0.84},{"c":"B10","col":"k","i":12,"x":0.35,"y":-0.46},{"c":"B10","col":"k","i":13,"x":0.1,"y":-0.13},{"c":"B10","col":"k","i":14,"x":0,"y":0},
{"c":"L1r","col":"r","i":0,"x":-2.56,"y":0.06},{"c":"L1r","col":"r","i":1,"x":-2.2,"y":-0.3},{"c":"L1r","col":"r","i":2,"x":-1.79,"y":-0.63},{"c":"L1r","col":"r","i":3,"x":-1.4,"y":-0.9},{"c":"L1r","col":"r","i":4,"x":-1.06,"y":-1.07},{"c":"L1r","col":"r","i":5,"x":-0.63,"y":-1.14},{"c":"L1r","col":"r","i":6,"x":-0.26,"y":-0.93},{"c":"L1r","col":"r","i":7,"x":-0.06,"y":-0.5},{"c":"L1r","col":"r","i":8,"x":0,"y":0},
{"c":"L1b","col":"k","i":0,"x":-2.49,"y":0.0},{"c":"L1b","col":"k","i":1,"x":-2.15,"y":-0.33},{"c":"L1b","col":"k","i":2,"x":-1.77,"y":-0.66},{"c":"L1b","col":"k","i":3,"x":-1.4,"y":-0.92},{"c":"L1b","col":"k","i":4,"x":-1.06,"y":-1.09},{"c":"L1b","col":"k","i":5,"x":-0.7,"y":-1.15},
{"c":"L2b","col":"k","i":0,"x":-4.05,"y":-1.25},{"c":"L2b","col":"k","i":1,"x":-3.39,"y":-1.84},{"c":"L2b","col":"k","i":2,"x":-2.91,"y":-2.13},{"c":"L2b","col":"k","i":3,"x":-2.42,"y":-2.38},{"c":"L2b","col":"k","i":4,"x":-1.69,"y":-2.57},{"c":"L2b","col":"k","i":5,"x":-0.95,"y":-2.53},{"c":"L2b","col":"k","i":6,"x":-0.47,"y":-2.34},{"c":"L2b","col":"k","i":7,"x":-0.17,"y":-2.04},{"c":"L2b","col":"k","i":8,"x":-0.03,"y":-1.7},{"c":"L2b","col":"k","i":9,"x":0.02,"y":-1.1},{"c":"L2b","col":"k","i":10,"x":0.02,"y":-0.5},{"c":"L2b","col":"k","i":11,"x":0,"y":0},
{"c":"L2r","col":"r","i":0,"x":-2.81,"y":-2.34},{"c":"L2r","col":"r","i":1,"x":-2.4,"y":-2.56},{"c":"L2r","col":"r","i":2,"x":-2.04,"y":-2.72},{"c":"L2r","col":"r","i":3,"x":-1.67,"y":-2.86},{"c":"L2r","col":"r","i":4,"x":-1.09,"y":-2.89},{"c":"L2r","col":"r","i":5,"x":-0.41,"y":-2.63},{"c":"L2r","col":"r","i":6,"x":-0.07,"y":-2.23},{"c":"L2r","col":"r","i":7,"x":0.12,"y":-1.65},{"c":"L2r","col":"r","i":8,"x":0.19,"y":-1.17},{"c":"L2r","col":"r","i":9,"x":0.17,"y":-0.67},{"c":"L2r","col":"r","i":10,"x":0.08,"y":-0.25},{"c":"L2r","col":"r","i":11,"x":0,"y":0}
],
"minorx":[{"x":-3.8,"y":0},{"x":-3.6,"y":0},{"x":-3.4,"y":0},{"x":-3.2,"y":0},{"x":-2.8,"y":0},{"x":-2.6,"y":0},{"x":-2.4,"y":0},{"x":-2.2,"y":0},{"x":-1.8,"y":0},{"x":-1.6,"y":0},{"x":-1.4,"y":0},{"x":-1.2,"y":0},{"x":-0.8,"y":0},{"x":-0.6,"y":0},{"x":-0.4,"y":0},{"x":-0.2,"y":0},{"x":0.2,"y":0},{"x":0.4,"y":0},{"x":0.6,"y":0},{"x":0.8,"y":0},{"x":1.2,"y":0},{"x":1.4,"y":0},{"x":1.6,"y":0},{"x":1.8,"y":0},{"x":2.2,"y":0},{"x":2.4,"y":0},{"x":2.6,"y":0},{"x":2.8,"y":0}],
"minory":[{"x":0,"y":-2.5},{"x":0,"y":-1.5},{"x":0,"y":-0.5},{"x":0,"y":0.5},{"x":0,"y":1.5},{"x":0,"y":2.5},{"x":0,"y":3.5},{"x":0,"y":4.5}],
"names":[{"t":"x","x":3.11,"y":0},{"t":"y","x":0,"y":5.16}]
},
"layer":[
{"data":{"name":"curves"},"transform":[{"filter":"datum.col == 'k'"}],
 "mark":{"type":"line","clip":true,"strokeWidth":2,"color":"#000000","interpolate":"catmull-rom"},
 "encoding":{
  "x":{"field":"x","type":"quantitative","scale":{"domain":[-4,3],"nice":false,"zero":false},
   "axis":{"offset":-205.5,"zindex":1,"format":"~g","values":[-4,-3,-2,-1,0,1,2,3],
    "labelExpr":"datum.value == 0 ? '' : datum.label",
    "tickSize":4,
    "domainColor":"#8c8c8c","tickColor":"#8c8c8c","labelColor":"#333333","labelFont":"Liberation Sans","labelFontSize":11,"labelPadding":1,"labelOverlap":false,"labelFlush":false,"title":null,"grid":false}},
  "y":{"field":"y","type":"quantitative","scale":{"domain":[-3,5],"nice":false,"zero":false},
   "axis":{"offset":-274.857,"zindex":1,"format":"~g","values":[-3,-2,-1,0,1,2,3,4,5],
    "labelExpr":"(datum.value == 2 || datum.value == 4 || datum.value == -2) ? datum.label : ''",
    "tickSize":4,
    "domainColor":"#8c8c8c","tickColor":"#8c8c8c","labelColor":"#333333","labelFont":"Liberation Sans","labelFontSize":11,"labelPadding":2,"labelOverlap":false,"labelFlush":false,"title":null,"grid":false}},
  "detail":{"field":"c","type":"nominal"},
  "order":{"field":"i","type":"quantitative"}}},
{"data":{"name":"curves"},"transform":[{"filter":"datum.col == 'r'"}],
 "mark":{"type":"line","clip":true,"strokeWidth":2,"color":"#ff0000","interpolate":"catmull-rom"},
 "encoding":{
  "x":{"field":"x","type":"quantitative"},
  "y":{"field":"y","type":"quantitative"},
  "detail":{"field":"c","type":"nominal"},
  "order":{"field":"i","type":"quantitative"}}},
{"data":{"name":"gray"},
 "mark":{"type":"point","shape":"M-0.05,1L0.05,1L0.05,-0.25L0.33,-0.12L0,-1L-0.33,-0.12L-0.05,-0.25Z","filled":true,"size":1024,"color":"#9a9a9a","opacity":1,"strokeWidth":0,"clip":true},
 "encoding":{
  "x":{"field":"x","type":"quantitative"},
  "y":{"field":"y","type":"quantitative"},
  "angle":{"field":"a","type":"quantitative","scale":null}}},
{"data":{"name":"blue"},
 "mark":{"type":"point","shape":"M-0.035,1L0.035,1L0.035,-0.4L0.2,-0.35L0,-1L-0.2,-0.35L-0.035,-0.4Z","filled":true,"size":900,"color":"#2020f0","opacity":1,"strokeWidth":0,"clip":true},
 "encoding":{
  "x":{"field":"x","type":"quantitative"},
  "y":{"field":"y","type":"quantitative"},
  "angle":{"field":"a","type":"quantitative","scale":null}}},
{"data":{"name":"minorx"},
 "mark":{"type":"tick","orient":"vertical","size":4,"thickness":1,"color":"#8c8c8c","opacity":1},
 "encoding":{
  "x":{"field":"x","type":"quantitative"},
  "y":{"field":"y","type":"quantitative"}}},
{"data":{"name":"minory"},
 "mark":{"type":"tick","orient":"horizontal","size":4,"thickness":1,"color":"#8c8c8c","opacity":1},
 "encoding":{
  "x":{"field":"x","type":"quantitative"},
  "y":{"field":"y","type":"quantitative"}}},
{"data":{"name":"names"},
 "mark":{"type":"text","font":"Liberation Serif","fontStyle":"italic","fontSize":13,"color":"#333333","clip":false},
 "encoding":{
  "x":{"field":"x","type":"quantitative"},
  "y":{"field":"y","type":"quantitative"},
  "text":{"field":"t"}}}
]
}
